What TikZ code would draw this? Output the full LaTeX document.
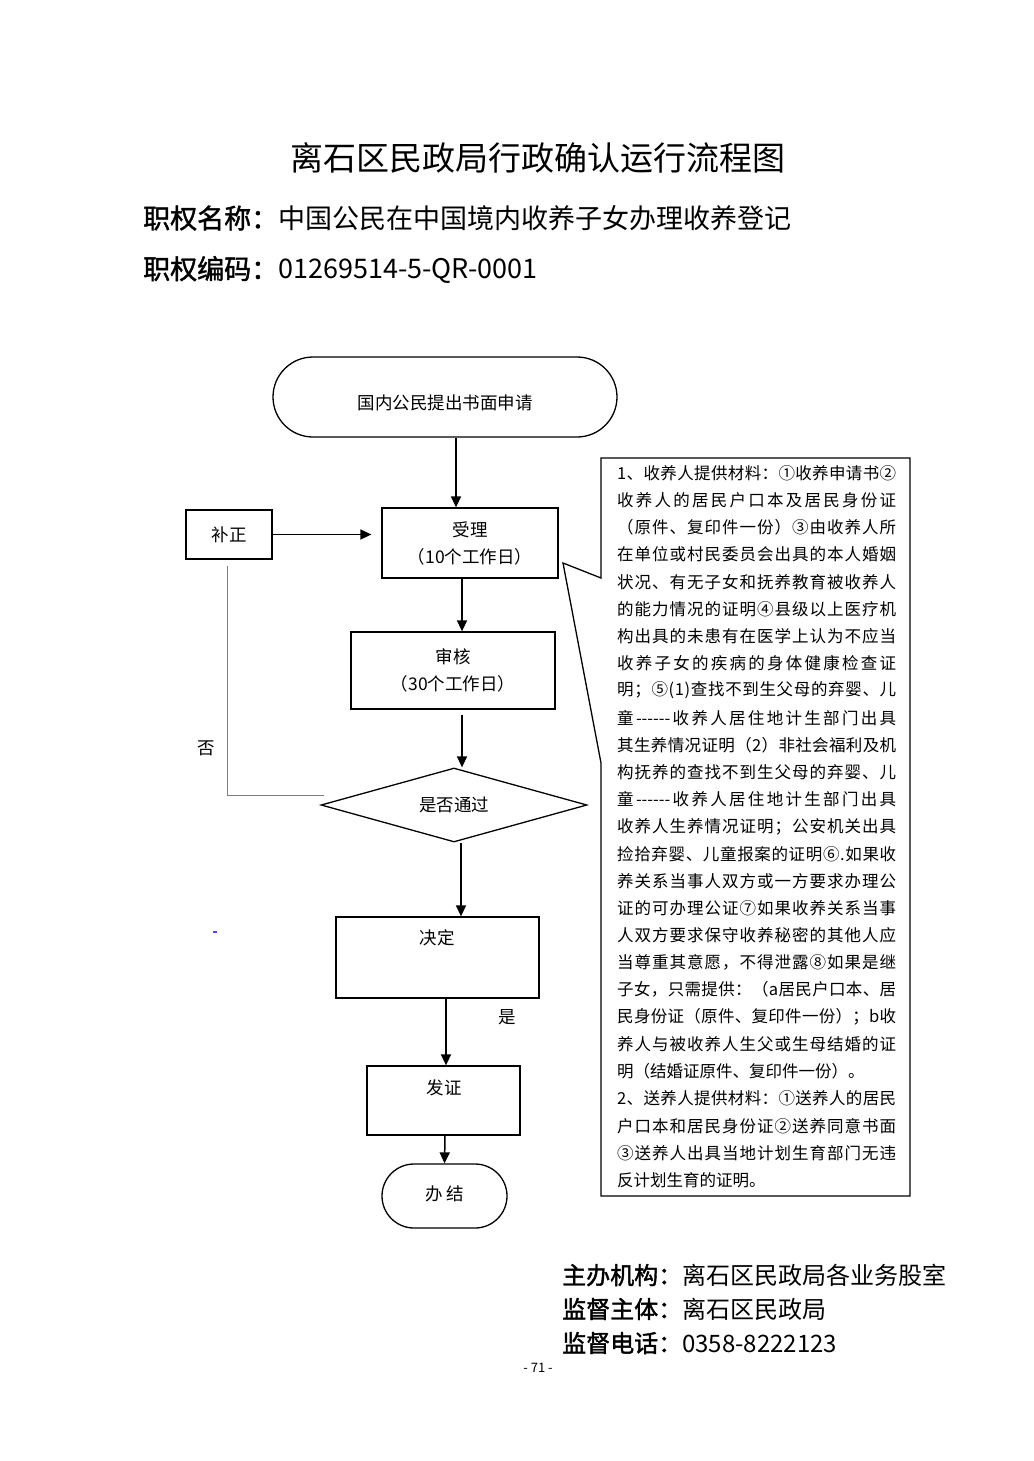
\documentclass[tikz,border=0pt]{standalone}
\usepackage{fontspec}
\setmainfont{Noto Sans CJK SC}
\newfontfamily\lbl[FakeBold=1.6]{Noto Sans CJK SC}
\usetikzlibrary{arrows.meta,shapes.geometric}
\def\jend{}
\def\jstep#1{\ifx#1\jend\else\hskip 0pt plus 1fil #1\expandafter\jstep\fi}
\def\jfirst#1{#1\jstep}
\newcommand\jline[1]{\hbox to 279pt{\jfirst#1\jend}}
\def\dsh{\mbox{-{}-{}-{}-{}-{}-}}
\begin{document}
\begin{tikzpicture}[x=1pt,y=-1pt,
  box/.style={draw, line width=1.3pt, inner sep=0pt},
  term/.style={box, rounded corners=#1},
  arr/.style={-{Triangle[length=11pt,width=10pt]}, line width=1.5pt},
  ft/.style={font=\fontsize{17.5}{27}\selectfont},
  cl/.style={anchor=west, inner sep=0pt, font=\fontsize{16.5}{20}\selectfont},
  hd/.style={anchor=west, inner sep=0pt}]
\useasboundingbox (0,0) rectangle (1033,1461);
\fill[white] (0,0) rectangle (1033,1461);

% header
\node (title) at (538,158) {\fontsize{33}{33}\selectfont 离石区民政局行政确认运行流程图};
\node[hd] (name) at (143,218) {\fontsize{27}{27}\selectfont{\lbl 职权名称：}中国公民在中国境内收养子女办理收养登记};
\node[hd] (code) at (143,270) {\fontsize{27}{27}\selectfont{\lbl 职权编码：}01269514-5-QR-0001};

% flowchart
\node[term=40pt, minimum width=344pt, minimum height=80pt] (start) at (445,397) {};
\node[ft] (startt) at (445,403) {国内公民提出书面申请};
\node[box, minimum width=176pt, minimum height=70pt, ft, align=center] (sl) at (470,543) {受理\\（10个工作日）};
\node[box, minimum width=86pt, minimum height=49pt, ft] (bz) at (229,534.5) {补正};
\node[box, minimum width=204pt, minimum height=77pt, ft, align=center] (sh) at (453,670.5) {审核\\（30个工作日）};
\node[draw, line width=1.3pt, diamond, aspect=3.6, inner sep=0pt, minimum width=266pt, minimum height=74pt, ft] (dia) at (454,805) {是否通过};
\node[box, minimum width=203pt, minimum height=81pt] (jd) at (437.5,957.5) {};
\node[ft] (jdt) at (437,938) {决定};
\node[box, minimum width=153pt, minimum height=69pt] (fz) at (443.5,1100.5) {};
\node[ft] (fzt) at (444,1088) {发证};
\node[term=32pt, minimum width=125pt, minimum height=64pt] (bj) at (444.5,1196) {};
\node[ft] (bjt) at (445,1194) {办\ 结};

\node[ft] (no) at (206,748) {否};
\node[ft] (yes) at (507,1017) {是};
\draw[blue!70, line width=2pt] (213,932) -- (217,932);

\draw[arr] ([xshift=11pt]start.south) -- ([xshift=-14pt]sl.north);
\draw[arr] (bz.east) -- ([xshift=-10pt]sl.west |- bz.east);
\draw[arr] ([xshift=-8pt]sl.south) -- ([xshift=9pt]sh.north);
\draw[arr] ([xshift=9pt,yshift=-5pt]sh.south) -- ([xshift=8pt]dia.north);
\draw[arr] ([xshift=7pt]dia.south) -- ([xshift=23.5pt]jd.north);
\draw[arr] ([xshift=8.5pt]jd.south) -- ([xshift=2.5pt]fz.north);
\draw[arr] ([xshift=1.5pt]fz.south) -- (bj.north);
\draw[gray, line width=0.8pt] ([xshift=4pt,yshift=10pt]dia.west) -| ([xshift=-2pt,yshift=-6pt]bz.south);

% callout
\draw[line width=1.3pt] (601,458) -- (910,458) -- (910,1196) -- (601,1196) -- (601,763) -- (563,563) -- (601,578) -- cycle;
\node[cl] (c1) at (617,473.0) {\jline{1、收养人提供材料：①收养申请书②}};
\node[cl] (c2) at (617,500.2) {\jline{收养人的居民户口本及居民身份证}};
\node[cl] (c3) at (617,527.4) {\jline{（原件、复印件一份）③由收养人所}};
\node[cl] (c4) at (617,554.6) {\jline{在单位或村民委员会出具的本人婚姻}};
\node[cl] (c5) at (617,581.8) {\jline{状况、有无子女和抚养教育被收养人}};
\node[cl] (c6) at (617,609.0) {\jline{的能力情况的证明④县级以上医疗机}};
\node[cl] (c7) at (617,636.2) {\jline{构出具的未患有在医学上认为不应当}};
\node[cl] (c8) at (617,663.4) {\jline{收养子女的疾病的身体健康检查证}};
\node[cl] (c9) at (617,690.6) {\jline{明；⑤(1)查找不到生父母的弃婴、儿}};
\node[cl] (c10) at (617,717.8) {\jline{童\dsh 收养人居住地计生部门出具}};
\node[cl] (c11) at (617,745.0) {\jline{其生养情况证明（2）非社会福利及机}};
\node[cl] (c12) at (617,772.2) {\jline{构抚养的查找不到生父母的弃婴、儿}};
\node[cl] (c13) at (617,799.4) {\jline{童\dsh 收养人居住地计生部门出具}};
\node[cl] (c14) at (617,826.6) {\jline{收养人生养情况证明；公安机关出具}};
\node[cl] (c15) at (617,853.8) {\jline{捡拾弃婴、儿童报案的证明⑥.如果收}};
\node[cl] (c16) at (617,881.0) {\jline{养关系当事人双方或一方要求办理公}};
\node[cl] (c17) at (617,908.2) {\jline{证的可办理公证⑦如果收养关系当事}};
\node[cl] (c18) at (617,935.4) {\jline{人双方要求保守收养秘密的其他人应}};
\node[cl] (c19) at (617,962.6) {\jline{当尊重其意愿，不得泄露⑧如果是继}};
\node[cl] (c20) at (617,989.8) {\jline{子女，只需提供：（a居民户口本、居}};
\node[cl] (c21) at (617,1017.0) {\jline{民身份证（原件、复印件一份）；b收}};
\node[cl] (c22) at (617,1044.2) {\jline{养人与被收养人生父或生母结婚的证}};
\node[cl] (c23) at (617,1071.4) {明（结婚证原件、复印件一份）。};
\node[cl] (c24) at (617,1098.6) {\jline{2、送养人提供材料：①送养人的居民}};
\node[cl] (c25) at (617,1125.8) {\jline{户口本和居民身份证②送养同意书面}};
\node[cl] (c26) at (617,1153.0) {\jline{③送养人出具当地计划生育部门无违}};
\node[cl] (c27) at (617,1180.2) {反计划生育的证明。};

% footer
\node[hd] (f1) at (562,1275) {\fontsize{24}{24}\selectfont{\lbl 主办机构：}离石区民政局各业务股室};
\node[hd] (f2) at (562,1309) {\fontsize{24}{24}\selectfont{\lbl 监督主体：}离石区民政局};
\node[hd] (f3) at (562,1343) {\fontsize{24}{24}\selectfont{\lbl 监督电话：}0358-8222123};
\node (page) at (538,1368) {\fontsize{13}{13}\selectfont - 71 -};
\end{tikzpicture}
\end{document}
